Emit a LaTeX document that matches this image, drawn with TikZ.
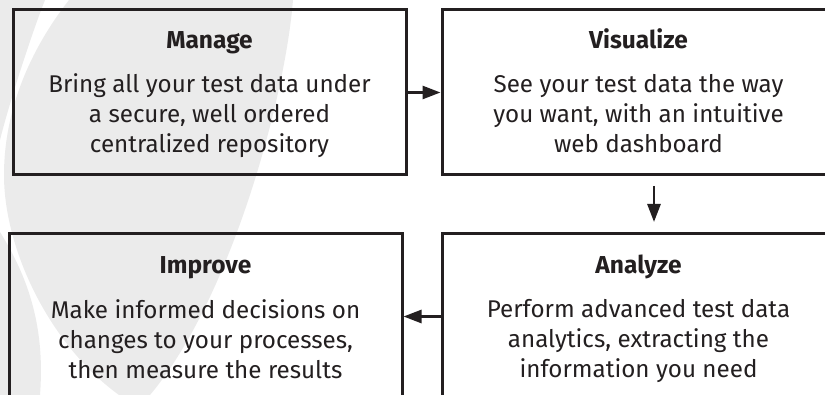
\documentclass[tikz,border=0pt]{standalone}
\usepackage{fontspec}
\setmainfont{Fira Sans}
\usetikzlibrary{arrows.meta}
\definecolor{ink}{HTML}{231F20}
\definecolor{swoosh}{HTML}{EBEBEB}
\newcommand\bodylines[1]{\vtop{\baselineskip=29.7pt\halign{\hfil##\hfil\cr#1\crcr}}}
\begin{document}
\begin{tikzpicture}[x=1pt,y=-1pt,
  box/.style={draw=ink,line width=3pt,minimum width=393pt,minimum height=165pt,inner sep=0pt},
  ttl/.style={anchor=base,inner sep=0pt,text=ink,font=\fontsize{24.5}{28}\selectfont\bfseries},
  body/.style={anchor=base,inner sep=0pt,text=ink,font=\fontsize{24.2}{28}\selectfont},
  arr/.style={draw=ink,line width=2.7pt,-{Triangle[length=18pt,width=13pt]}}]
\useasboundingbox (0,0) rectangle (825,395);
\clip (0,0) rectangle (825,395);
% background swoosh
\fill[swoosh] (69,0) -- (293,0) .. controls (285,100) and (230,300) .. (150,395)
  -- (119,395) .. controls (50,345) and (4,250) .. (4,175)
  .. controls (4,110) and (30,50) .. (69,0) -- cycle;
\fill[swoosh] (0,0) -- (45,0) .. controls (33,30) and (10,100) .. (0,140) -- cycle;
\fill[swoosh] (0,232) .. controls (30,280) and (45,330) .. (40,395) -- (0,395) -- cycle;
% boxes
\node[box] (manage) at (209.5,92.5) {};
\node[box] (visualize) at (638.5,92.5) {};
\node[box] (improve) at (205.5,316.5) {};
\node[box] (analyze) at (638.5,316.5) {};
% texts
\node[ttl] (manageT) at (209.5,49) {Manage};
\node[body] (manageB) at (209.5,93) {\bodylines{Bring all your test data under\cr a secure, well ordered\cr centralized repository}};
\node[ttl] (visualizeT) at (638.5,49) {Visualize};
\node[body] (visualizeB) at (638.5,93) {\bodylines{See your test data the way\cr you want, with an intuitive\cr web dashboard}};
\node[ttl] (improveT) at (205.5,274) {Improve};
\node[body] (improveB) at (205.5,319) {\bodylines{Make informed decisions on\cr changes to your processes,\cr then measure the results}};
\node[ttl] (analyzeT) at (638.5,274) {Analyze};
\node[body] (analyzeB) at (638.5,318) {\bodylines{Perform advanced test data\cr analytics, extracting the\cr information you need}};
% connectors
\draw[arr] (manage.east) -- (visualize.west);
\draw[arr] ([xshift=15.5pt,yshift=-9.5pt]visualize.south) -- ([xshift=15.5pt,yshift=10.5pt]analyze.north);
\draw[arr] (analyze.west) -- (improve.east);
\end{tikzpicture}
\end{document}
